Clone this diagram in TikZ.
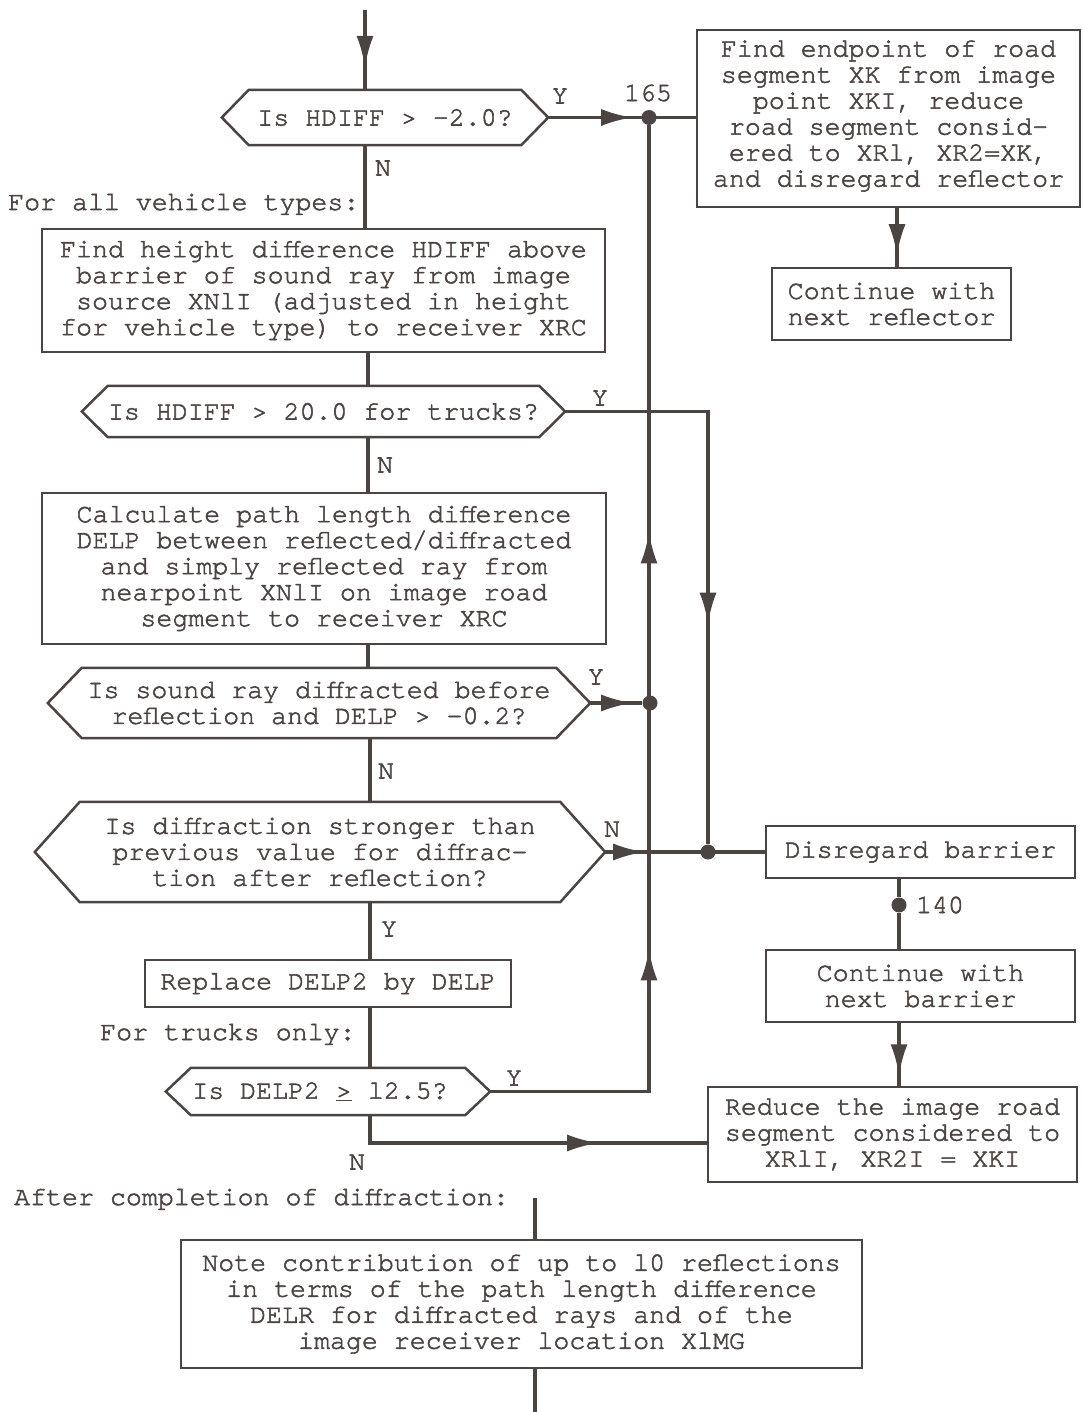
\documentclass[tikz,border=0pt]{standalone}
\usepackage{fontspec}
\newfontfamily\tw{TeX Gyre Cursor}[FakeBold=2.0]
\usetikzlibrary{arrows.meta,decorations.markings}
\definecolor{ink}{RGB}{74,68,66}

% outline of a decision node: a flat hexagon inside the node's rectangle
\newcommand\hexframe[2]{%
  \draw[frame] (#1.west) -- ([xshift=#2]#1.north west) -- ([xshift=-#2]#1.north east)
    -- (#1.east) -- ([xshift=-#2]#1.south east) -- ([xshift=#2]#1.south west) -- cycle;}

\begin{document}
\begin{tikzpicture}[x=1pt,y=-1pt,
  every node/.style={font=\tw\fontsize{26.6}{26}\selectfont, text=ink, inner sep=0pt},
  box/.style={draw=ink, line width=2.5pt, rectangle, align=center},
  hexnode/.style={rectangle, align=center},
  frame/.style={draw=ink, line width=2.5pt, line join=miter},
  plain/.style={anchor=base west},
  lbl/.style={anchor=center},
  flow/.style={draw=ink, line width=3.2pt},
  arrowat/.style={postaction={decorate, decoration={markings,
      mark=at position #1 with {\arrow{Latex[length=31pt,width=17pt]}}}}},
  dot/.style={circle, fill=ink, minimum size=15pt, inner sep=0pt}
]
\useasboundingbox[fill=white] (0,0) rectangle (1083,1412);

% ---- main column ----
\node[hexnode, minimum width=326, minimum height=55] (d1) at (385,117.5) {Is HDIFF > -2.0?};
\hexframe{d1}{27}
\node[plain] (t1) at (8,210) {For all vehicle types:};
\node[box, minimum width=563, minimum height=123] (b2) at (323.5,290.5)
  {Find height difference HDIFF above\\barrier of sound ray from image\\source XNlI (adjusted in height\\for vehicle type) to receiver XRC};
\node[hexnode, minimum width=483, minimum height=51] (d3) at (323.5,411.5) {Is HDIFF > 20.0 for trucks?};
\hexframe{d3}{26}
\node[box, minimum width=564, minimum height=151] (b4) at (324,568.5)
  {Calculate path length difference\\DELP between reflected/diffracted\\and simply reflected ray from\\nearpoint XNlI on image road\\segment to receiver XRC};
\node[hexnode, minimum width=542, minimum height=70] (d5) at (319,703)
  {Is sound ray diffracted before\\reflection and DELP > -0.2?};
\hexframe{d5}{34}
\node[hexnode, minimum width=570, minimum height=100] (d6) at (320,852)
  {Is diffraction stronger than\\previous value for diffrac-\\tion after reflection?};
\hexframe{d6}{45}
\node[box, minimum width=366, minimum height=47] (b7) at (328,983.5) {Replace DELP2 by DELP};
\node[plain] (t2) at (100,1040) {For trucks only:};
\node[hexnode, minimum width=324, minimum height=47] (d8) at (328,1091.5) {\hspace*{-16pt}Is DELP2 \underline{>} l2.5?};
\hexframe{d8}{25}
\node[plain] (t3) at (14,1205) {After completion of diffraction:};
\node[box, minimum width=681, minimum height=128] (bn) at (521.5,1304)
  {Note contribution of up to l0 reflections\\in terms of the path length difference\\DELR for diffracted rays and of the\\image receiver location XlMG};

% ---- right column ----
\node[box, minimum width=383, minimum height=177, text depth=10pt] (r1) at (888.5,118.5)
  {Find endpoint of road\\segment XK from image\\point XKI, reduce\\road segment consid-\\ered to XRl, XR2=XK,\\and disregard reflector};
\node[box, minimum width=239, minimum height=72] (r2) at (891.5,304) {Continue with\\next reflector};
\node[box, minimum width=309, minimum height=52] (r3) at (920.5,852) {Disregard barrier};
\node[box, minimum width=309, minimum height=72] (r4) at (920.5,986) {Continue with\\next barrier};
\node[box, minimum width=369, minimum height=95] (r5) at (892.5,1134.5)
  {Reduce the image road\\segment considered to\\XRlI, XR2I = XKI};

% ---- junctions ----
\coordinate (start) at (365,10);
\coordinate (mx) at (368,0);
\coordinate (my) at (370,0);
\coordinate (rx) at (897,0);
\coordinate (ry) at (899,0);
\coordinate (nb) at (370,1143);
\coordinate (bx) at (535,1198);
\coordinate (bend) at (535,1412);
\node[dot] (j165) at (649,117.5) {};
\node[dot] (j703) at (650,703) {};
\node[dot] (jr) at (708,852) {};
\node[dot] (j140) at (899,905) {};

% ---- connectors ----
\draw[flow, arrowat=57pt] (start) -- (start |- d1.north);
\draw[flow] (start |- d1.south) -- (start |- b2.north);
\draw[flow] (mx |- b2.south) -- (mx |- d3.north);
\draw[flow] (mx |- d3.south) -- (mx |- b4.north);
\draw[flow] (mx |- b4.south) -- (mx |- d5.north);
\draw[flow] (my |- d5.south) -- (my |- d6.north);
\draw[flow] (my |- d6.south) -- (my |- b7.north);
\draw[flow] (my |- b7.south) -- (my |- d8.north);
\draw[flow, arrowat=256pt] (my |- d8.south) -- (nb) -- (nb -| r5.west);

\draw[flow, arrowat=84pt] (d1.east) -- (d1.east -| r1.west);
\draw[flow, arrowat=301pt, arrowat=718pt] (d8.east) -- (d8.east -| j165) -- (j165);
\draw[flow, arrowat=355pt] (d3.east) -- (d3.east -| jr) -- (jr);
\draw[flow, arrowat=42pt] (d5.east) -- (j703);
\draw[flow, arrowat=39pt] (d6.east) -- (r3.west);

\draw[flow, arrowat=47pt] (rx |- r1.south) -- (rx |- r2.north);
\draw[flow] (ry |- r3.south) -- (j140);
\draw[flow, arrowat=43pt] (j140) -- (ry |- r4.north);
\draw[flow, arrowat=52pt] (ry |- r4.south) -- (ry |- r5.north);

\draw[flow] (bx) -- (bx |- bn.north);
\draw[flow] (bx |- bn.south) -- (bend);

% ---- branch labels ----
\node[lbl] (y1) at (560,96) {Y};
\node[lbl] (n165) at (648,93) {165};
\node[lbl] (n1) at (383,168) {N};
\node[lbl] (y3) at (600,398) {Y};
\node[lbl] (n3) at (385,465) {N};
\node[lbl] (y5) at (596,677) {Y};
\node[lbl] (n5) at (386,771) {N};
\node[lbl] (n6) at (612,829) {N};
\node[lbl] (y6) at (389,929) {Y};
\node[lbl] (n140) at (940,905) {140};
\node[lbl] (y8) at (514,1078) {Y};
\node[lbl] (n8) at (357,1162) {N};
\end{tikzpicture}
\end{document}
